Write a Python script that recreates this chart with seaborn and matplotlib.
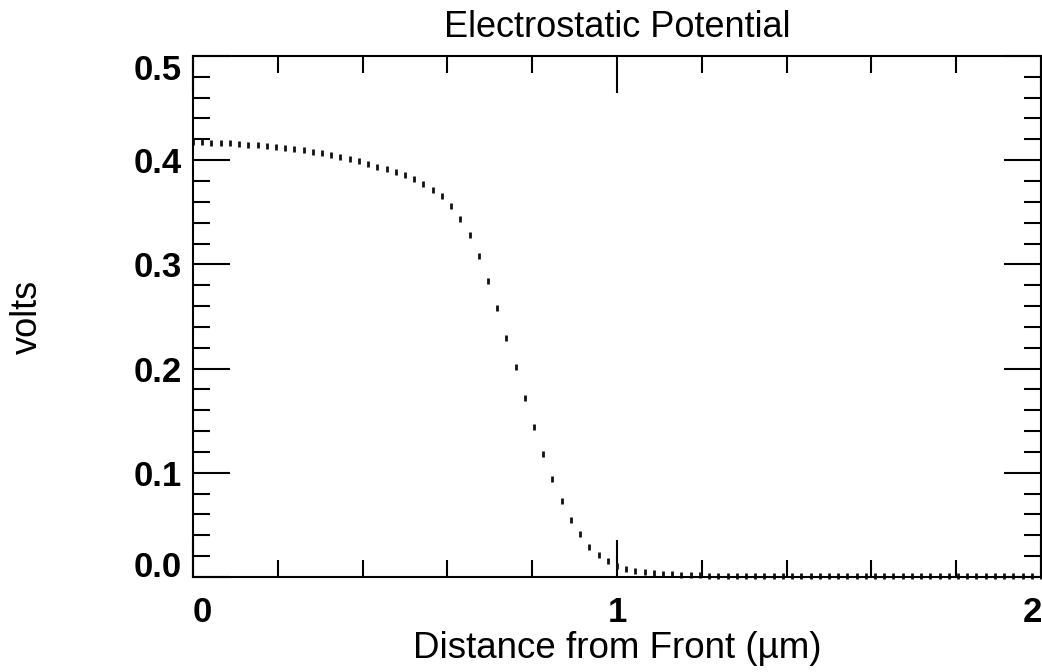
import numpy as np
import pandas as pd
import matplotlib
matplotlib.use("Agg")
import matplotlib.pyplot as plt
import matplotlib.transforms as mtransforms
from matplotlib.ticker import MultipleLocator, FormatStrFormatter
import seaborn as sns

# distance from front (um), one sample every 2/92
distance = [0.0000, 0.0217, 0.0435, 0.0652, 0.0870, 0.1087, 0.1304, 0.1522, 0.1739, 0.1957,
            0.2174, 0.2391, 0.2609, 0.2826, 0.3043, 0.3261, 0.3478, 0.3696, 0.3913, 0.4130,
            0.4348, 0.4565, 0.4783, 0.5000, 0.5217, 0.5435, 0.5652, 0.5870, 0.6087, 0.6304,
            0.6522, 0.6739, 0.6957, 0.7174, 0.7391, 0.7609, 0.7826, 0.8043, 0.8261, 0.8478,
            0.8696, 0.8913, 0.9130, 0.9348, 0.9565, 0.9783, 1.0000, 1.0217, 1.0435, 1.0652,
            1.0870, 1.1087, 1.1304, 1.1522, 1.1739, 1.1957, 1.2174, 1.2391, 1.2609, 1.2826,
            1.3043, 1.3261, 1.3478, 1.3696, 1.3913, 1.4130, 1.4348, 1.4565, 1.4783, 1.5000,
            1.5217, 1.5435, 1.5652, 1.5870, 1.6087, 1.6304, 1.6522, 1.6739, 1.6957, 1.7174,
            1.7391, 1.7609, 1.7826, 1.8043, 1.8261, 1.8478, 1.8696, 1.8913, 1.9130, 1.9348,
            1.9565, 1.9783, 2.0000]

volts = [0.4170, 0.4170, 0.4168, 0.4165, 0.4161, 0.4156, 0.4150, 0.4143, 0.4135, 0.4126,
         0.4116, 0.4105, 0.4093, 0.4080, 0.4066, 0.4051, 0.4034, 0.4016, 0.3992, 0.3966,
         0.3938, 0.3912, 0.3887, 0.3856, 0.3817, 0.3772, 0.3717, 0.3655, 0.3556, 0.3436,
         0.3278, 0.3082, 0.2843, 0.2585, 0.2289, 0.2012, 0.1715, 0.1438, 0.1180, 0.0945,
         0.0725, 0.0548, 0.0409, 0.0290, 0.0210, 0.0152, 0.0108, 0.0076, 0.0057, 0.0046,
         0.0037, 0.0030, 0.0024, 0.0020, 0.0017, 0.0015, 0.0013, 0.0012, 0.0011, 0.0011,
         0.0011, 0.0011, 0.0011, 0.0011, 0.0011, 0.0011, 0.0011, 0.0011, 0.0011, 0.0011,
         0.0011, 0.0011, 0.0011, 0.0011, 0.0011, 0.0011, 0.0011, 0.0011, 0.0011, 0.0011,
         0.0011, 0.0011, 0.0011, 0.0011, 0.0011, 0.0011, 0.0011, 0.0011, 0.0011, 0.0011,
         0.0011, 0.0011, 0.0011]

x_ticks = [0, 1, 2]
y_ticks = [0.0, 0.1, 0.2, 0.3, 0.4, 0.5]

df = pd.DataFrame({'distance': distance, 'volts': volts})

sns.set_style('white')
plt.rcParams['font.family'] = ['Liberation Sans', 'DejaVu Sans']
plt.rcParams['text.color'] = 'black'
plt.rcParams['axes.labelcolor'] = 'black'
plt.rcParams['axes.linewidth'] = 1.5

fig = plt.figure(figsize=(10.42, 6.72), dpi=100)
ax = fig.add_axes([0.1852, 0.1414, 0.8138, 0.7753])

sns.lineplot(data=df, x='distance', y='volts', ax=ax, marker='|', linestyle='none',
             markersize=4.5, markeredgewidth=2.0, markeredgecolor='#111111',
             color='#111111', clip_on=False)

ax.set_xlim(0, 2)
ax.set_ylim(0, 0.5)
ax.set_xticks(x_ticks)
ax.set_yticks(y_ticks)
ax.xaxis.set_minor_locator(MultipleLocator(0.2))
ax.yaxis.set_minor_locator(MultipleLocator(0.02))
ax.xaxis.set_major_formatter(FormatStrFormatter('%d'))
ax.yaxis.set_major_formatter(FormatStrFormatter('%.1f'))

ax.tick_params(which='both', direction='in', top=True, right=True, bottom=True, left=True,
               width=1.5, colors='black')
ax.tick_params(which='major', length=26.5)
ax.tick_params(which='minor', length=12)
ax.tick_params(axis='x', which='major', pad=14, labelsize=25)
ax.tick_params(axis='y', which='major', pad=8, labelsize=25)
for lab in ax.get_xticklabels() + ax.get_yticklabels():
    lab.set_fontweight('bold')

for sp in ax.spines.values():
    sp.set_color('black')
    sp.set_linewidth(1.5)

# edge labels sit inward like the original
shift = lambda dx, dy: mtransforms.ScaledTranslation(dx / 100, dy / 100, fig.dpi_scale_trans)
xt = ax.xaxis.get_major_ticks()
yt = ax.yaxis.get_major_ticks()
xt[0].label1.set_transform(xt[0].label1.get_transform() + shift(9, 0))
xt[-1].label1.set_transform(xt[-1].label1.get_transform() + shift(-9, 0))
yt[0].label1.set_transform(yt[0].label1.get_transform() + shift(0, 13))
yt[-1].label1.set_transform(yt[-1].label1.get_transform() + shift(0, -11))

ax.set_title('Electrostatic Potential', fontsize=26, pad=14, color='black')
ax.set_xlabel('Distance from Front (\u00b5m)', fontsize=26.5, labelpad=1)
ax.set_ylabel('volts', fontsize=26, labelpad=64)

fig.savefig('out.png', dpi=100)
